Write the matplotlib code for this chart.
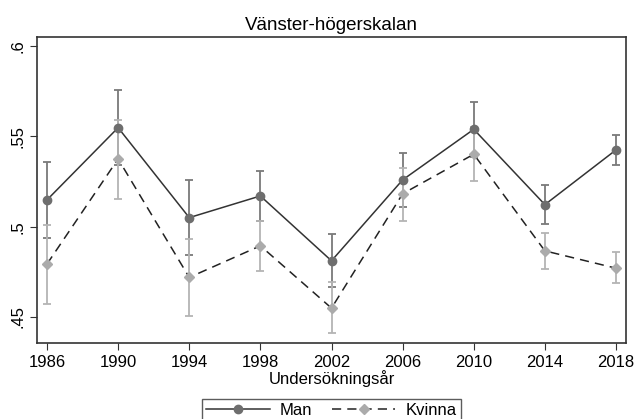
import numpy as np
import matplotlib.pyplot as plt

plt.rcParams['font.family'] = ['Liberation Sans', 'DejaVu Sans']

# Data.
years = [1986, 1990, 1994, 1998, 2002, 2006, 2010, 2014, 2018]

man = [0.5148, 0.5548, 0.5050, 0.5170, 0.4811, 0.5259, 0.5539, 0.5122, 0.5425]
man_lo = [0.4938, 0.5340, 0.4844, 0.5030, 0.4665, 0.5111, 0.5386, 0.5016, 0.5342]
man_hi = [0.5358, 0.5757, 0.5259, 0.5309, 0.4957, 0.5410, 0.5692, 0.5230, 0.5508]

kvinna = [0.4793, 0.5375, 0.4719, 0.4894, 0.4549, 0.5182, 0.5401, 0.4866, 0.4770]
kvinna_lo = [0.4572, 0.5154, 0.4507, 0.4754, 0.4411, 0.5030, 0.5253, 0.4765, 0.4689]
kvinna_hi = [0.5010, 0.5590, 0.4933, 0.5030, 0.4695, 0.5327, 0.5549, 0.4966, 0.4857]

x = np.array(years)
man = np.array(man)
kvinna = np.array(kvinna)

fig = plt.figure(figsize=(6.35, 4.19), dpi=100)
ax = fig.add_axes([0.0583, 0.1814, 0.9275, 0.7303])

# Confidence intervals
ax.errorbar(x, man, yerr=[man - np.array(man_lo), np.array(man_hi) - man],
            fmt='none', ecolor='#7a7a7a', elinewidth=1.3, capsize=3, capthick=1.3, zorder=2)
ax.errorbar(x, kvinna, yerr=[kvinna - np.array(kvinna_lo), np.array(kvinna_hi) - kvinna],
            fmt='none', ecolor='#b4b4b4', elinewidth=1.3, capsize=3, capthick=1.3, zorder=2)

# Lines with markers
ax.plot(x, man, '-', color='#333333', lw=1.1, marker='o', ms=6,
        mfc='#6e6e6e', mec='#6e6e6e', label='Man', zorder=4)
ax.plot(x, kvinna, '--', color='#222222', lw=1.1, dashes=(6, 4), marker='D', ms=5.5,
        mfc='#ababab', mec='#ababab', label='Kvinna', zorder=3)

ax.set_xlim(1985.44, 2018.56)
ax.set_ylim(0.4356, 0.605)
ax.set_xticks(years)
ax.set_yticks([0.45, 0.5, 0.55, 0.6])
ax.set_yticklabels(['.45', '.5', '.55', '.6'], rotation=90, va='center')
ax.tick_params(axis='both', labelsize=12, length=5, color='#333333')
for s in ax.spines.values():
    s.set_color('#333333')
    s.set_linewidth(1.2)

ax.set_title('Vänster-högerskalan', fontsize=13.5, pad=5)
ax.set_xlabel('Undersökningsår', fontsize=12, labelpad=0)

fig.legend(loc='upper center', bbox_to_anchor=(0.522, 0.048), ncol=2,
           frameon=True, fancybox=False, edgecolor='#333333', fontsize=12,
           handlelength=3.8, columnspacing=1.2, borderpad=0.25, handletextpad=0.6,
           borderaxespad=0)

fig.savefig('out.png', dpi=100)
